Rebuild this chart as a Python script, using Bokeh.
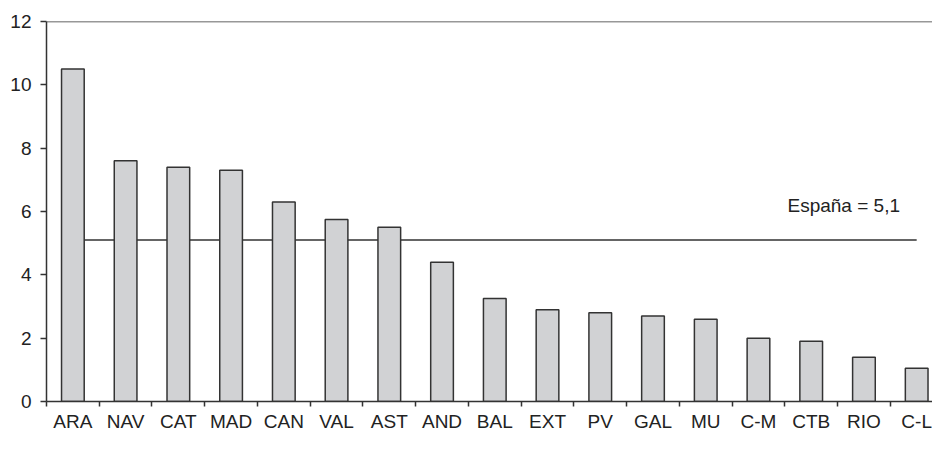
from bokeh.plotting import figure
from bokeh.models import (Range1d, FixedTicker, CustomJSTickFormatter, Span, Label,
                          ColumnDataSource)
from bokeh.embed import file_html
from bokeh.resources import INLINE

# ---- data ----
regions = ["ARA", "NAV", "CAT", "MAD", "CAN", "VAL", "AST", "AND", "BAL",
           "EXT", "PV", "GAL", "MU", "C-M", "CTB", "RIO", "C-L"]
values = [10.5, 7.6, 7.4, 7.3, 6.3, 5.75, 5.5, 4.4, 3.25,
          2.9, 2.8, 2.7, 2.6, 2.0, 1.9, 1.4, 1.05]
spain_value = 5.1
spain_label = "España = 5,1"
y_ticks = [0, 2, 4, 6, 8, 10, 12]

FONT = "Liberation Sans"
TXT = "#222222"
DARK = "#333333"

n = len(regions)
centers = [i + 0.5 for i in range(n)]
bounds = list(range(n + 1))

p = figure(width=932, height=434, output_backend="svg", toolbar_location=None,
           x_range=Range1d(0, 16.8), y_range=Range1d(0, 12),
           min_border_left=46, min_border_top=21, min_border_right=0,
           min_border_bottom=0)
p.outline_line_color = None
p.xgrid.visible = False
p.ygrid.visible = False
p.background_fill_color = "white"
p.border_fill_color = "white"

# Spain average line, behind the bars
p.line(x=centers, y=[spain_value] * n, line_color=DARK, line_width=1.5)

src = ColumnDataSource(dict(x=centers, top=values))
p.vbar(x="x", top="top", bottom=0, width=0.43, source=src,
       fill_color="#d1d2d4", line_color=DARK, line_width=1.5)

# top border line
p.add_layout(Span(location=12, dimension="width", line_color=DARK, line_width=1.5))

p.add_layout(Label(x=14.05, y=6.2, text=spain_label, text_font=FONT,
                   text_font_size="19px", text_color=TXT,
                   text_baseline="alphabetic"))

# y axis
ya = p.yaxis[0]
ya.ticker = FixedTicker(ticks=y_ticks)
ya.axis_line_color = DARK
ya.axis_line_width = 1.5
ya.major_tick_line_color = DARK
ya.major_tick_line_width = 1.5
ya.major_tick_in = 0
ya.major_tick_out = 6
ya.minor_tick_line_color = None
ya.major_label_text_font = FONT
ya.major_label_text_font_size = "19px"
ya.major_label_text_color = TXT
ya.major_label_standoff = 9

# x axis: labels at centers, tick marks at category boundaries
xa = p.xaxis[0]
xa.ticker = FixedTicker(ticks=centers, minor_ticks=bounds)
xa.formatter = CustomJSTickFormatter(args=dict(labels=regions),
                                     code="return labels[Math.floor(tick)];")
xa.axis_line_color = DARK
xa.axis_line_width = 1.5
xa.major_tick_line_color = None
xa.major_tick_in = 0
xa.major_tick_out = 5
xa.minor_tick_line_color = DARK
xa.minor_tick_line_width = 1.5
xa.minor_tick_in = 0
xa.minor_tick_out = 5
xa.major_label_text_font = FONT
xa.major_label_text_font_size = "19px"
xa.major_label_text_color = TXT
xa.major_label_standoff = 4

open("out.html", "w").write(file_html(p, INLINE))
